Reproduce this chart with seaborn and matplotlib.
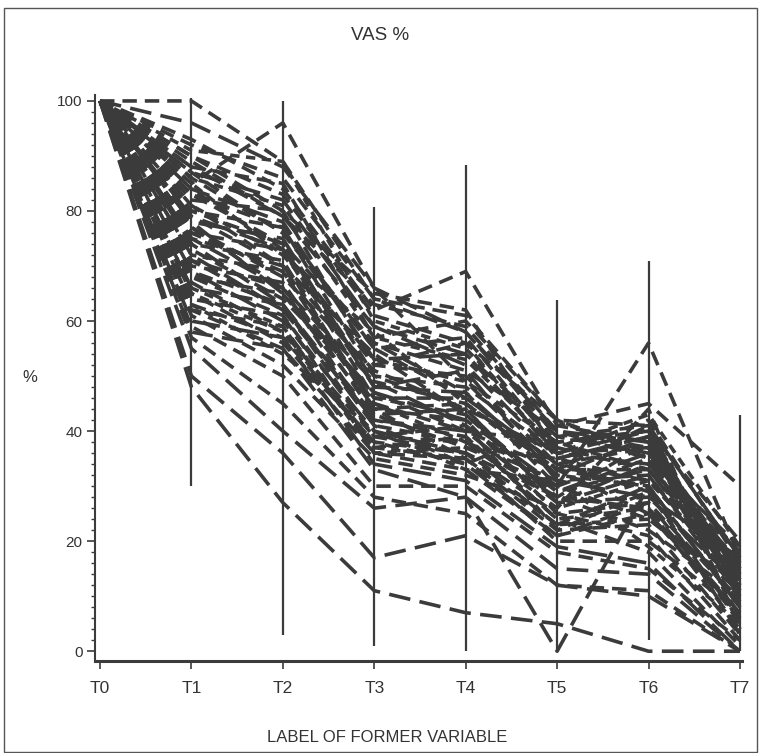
import matplotlib
matplotlib.use("Agg")
import matplotlib.pyplot as plt
from matplotlib.patches import Rectangle
from matplotlib.ticker import MultipleLocator
import numpy as np
import pandas as pd
import seaborn as sns

# Visit labels
visits = ["T0", "T1", "T2", "T3", "T4", "T5", "T6", "T7"]

# VAS (%) per patient, one list per patient, T0..T7
vas_by_patient = [
    [100, 100, 89, 64, 61, 42, 41, 17],
    [100, 96, 88, 66, 58, 40, 38, 14],
    [100, 93, 84, 62, 69, 41, 45, 30],
    [100, 91, 89, 60, 55, 38, 40, 12],
    [100, 90, 80, 65, 62, 36, 42, 16],
    [100, 88, 85, 57, 60, 42, 35, 10],
    [100, 87, 82, 59, 52, 35, 39, 13],
    [100, 86, 76, 55, 57, 37, 33, 18],
    [100, 85, 96, 66, 49, 33, 41, 9],
    [100, 84, 78, 53, 54, 39, 36, 15],
    [100, 83, 74, 56, 47, 30, 56, 17],
    [100, 82, 80, 52, 50, 34, 37, 11],
    [100, 81, 72, 58, 45, 32, 30, 8],
    [100, 80, 77, 50, 48, 36, 34, 14],
    [100, 79, 70, 54, 43, 28, 38, 6],
    [100, 78, 75, 48, 51, 31, 28, 12],
    [100, 77, 68, 51, 44, 27, 32, 10],
    [100, 76, 73, 46, 46, 34, 29, 5],
    [100, 75, 66, 49, 41, 29, 35, 16],
    [100, 74, 71, 44, 42, 25, 27, 9],
    [100, 73, 64, 47, 40, 33, 25, 7],
    [100, 72, 69, 45, 38, 26, 31, 13],
    [100, 71, 62, 42, 39, 24, 26, 4],
    [100, 70, 67, 43, 37, 30, 24, 11],
    [100, 69, 60, 40, 36, 23, 30, 8],
    [100, 68, 65, 44, 35, 22, 23, 3],
    [100, 67, 58, 39, 38, 28, 22, 10],
    [100, 66, 63, 41, 34, 21, 27, 6],
    [100, 65, 56, 38, 36, 25, 21, 2],
    [100, 64, 61, 36, 35, 20, 20, 7],
    [100, 63, 54, 40, 33, 31, 19, 5],
    [100, 62, 59, 37, 39, 24, 18, 1],
    [100, 61, 52, 35, 32, 26, 44, 4],
    [100, 60, 57, 34, 31, 19, 16, 0],
    [100, 59, 50, 30, 30, 18, 15, 2],
    [100, 58, 55, 33, 28, 15, 14, 0],
    [100, 57, 45, 28, 25, 12, 11, 0],
    [100, 55, 40, 26, 28, 0, 30, 3],
    [100, 50, 36, 17, 21, 12, 10, 0],
    [100, 48, 27, 11, 7, 5, 0, 0],
    [100, 89, 79, 63, 59, 40, 37, 15],
    [100, 86, 81, 57, 53, 37, 43, 19],
    [100, 84, 73, 52, 56, 35, 39, 14],
    [100, 80, 74, 49, 45, 33, 33, 12],
    [100, 78, 65, 47, 42, 30, 36, 18],
    [100, 75, 70, 45, 40, 38, 40, 20],
    [100, 72, 62, 43, 44, 27, 34, 16],
    [100, 69, 63, 39, 41, 22, 29, 9],
    [100, 66, 59, 36, 37, 35, 31, 13],
    [100, 63, 57, 38, 34, 41, 38, 15],
    [100, 92, 86, 64, 58, 39, 41, 17],
    [100, 90, 83, 61, 56, 42, 36, 14],
    [100, 88, 79, 59, 54, 36, 40, 11],
    [100, 87, 76, 56, 51, 40, 35, 19],
    [100, 85, 72, 53, 49, 38, 33, 13],
    [100, 83, 77, 55, 46, 34, 31, 16],
    [100, 81, 70, 50, 44, 36, 37, 12],
    [100, 79, 73, 48, 47, 32, 39, 10],
    [100, 77, 66, 46, 43, 29, 33, 14],
    [100, 76, 69, 44, 45, 33, 30, 8],
    [100, 74, 63, 42, 40, 27, 28, 17],
    [100, 71, 66, 41, 38, 31, 32, 11],
    [100, 68, 61, 39, 36, 28, 26, 7],
    [100, 65, 58, 37, 35, 23, 24, 12],
    [100, 62, 55, 36, 33, 21, 25, 6],
]

# Line type used for each patient
line_type = [
    "A", "B", "A", "C", "A", "A", "D", "A", "A", "B",
    "A", "A", "C", "A", "A", "D", "A", "A", "B", "A",
    "A", "C", "A", "A", "D", "A", "A", "B", "A", "A",
    "C", "A", "A", "D", "A", "B", "A", "B", "B", "B",
    "A", "C", "A", "A", "D", "A", "B", "A", "C", "A",
    "A", "A", "B", "A", "C", "A", "A", "D", "A", "A",
    "B", "A", "A", "C", "A",
]

# Range bars drawn at each visit
range_low = [99, 30, 3, 1, 0, 0, 2, 0]
range_high = [100, 100.5, 100, 80.7, 88.4, 63.8, 71, 43]

ink = "#3b3b3b"

rows = []
for pid, (vals, lt) in enumerate(zip(vas_by_patient, line_type)):
    for k, v in enumerate(vals):
        rows.append({"patient": pid, "visit": k, "vas": v, "ltype": lt})
df = pd.DataFrame(rows)

sns.set_style("white")
plt.rcParams["font.family"] = ["Liberation Sans", "DejaVu Sans"]

fig = plt.figure(figsize=(7.6, 7.53), dpi=100)
ax = fig.add_axes([0.125, 0.122, 0.851, 0.752])

dash_map = {
    "A": (4, 2.2),
    "B": (6, 2.6),
    "C": (2.6, 1.8),
    "D": (8, 3),
}

sns.lineplot(
    data=df, x="visit", y="vas", units="patient", estimator=None,
    style="ltype", dashes=dash_map, color=ink, linewidth=2.6,
    legend=False, ax=ax, sort=False,
)

ax.vlines(range(len(visits)), range_low, range_high, color=ink, linewidth=1.6)

ax.set_xlim(-0.055, 7.02)
ax.set_ylim(-1.8, 101.1)
ax.set_xticks(range(len(visits)))
ax.set_xticklabels(visits)
ax.yaxis.set_major_locator(MultipleLocator(20))
ax.yaxis.set_minor_locator(MultipleLocator(2))
ax.tick_params(axis="x", direction="out", length=6, width=1.2, color=ink,
               labelsize=12.5, labelcolor="#333333", pad=8, bottom=True)
ax.tick_params(axis="y", which="major", direction="out", length=6, width=1.2,
               color=ink, labelsize=11, labelcolor="#333333", pad=3, left=True)
ax.tick_params(axis="y", which="minor", direction="out", length=3, width=1.0,
               color=ink, left=True)
ax.set_xlabel("")
ax.set_ylabel("")

for side in ("top", "right"):
    ax.spines[side].set_visible(False)
ax.spines["left"].set_color(ink)
ax.spines["left"].set_linewidth(1.5)
ax.spines["bottom"].set_color(ink)
ax.spines["bottom"].set_linewidth(2.2)

fig.text(0.5, 1 - 35 / 753, "VAS %", ha="center", va="center",
         fontsize=13.5, color="#333333")
fig.text(30 / 760, 1 - 378 / 753, "%", ha="center", va="center",
         fontsize=12, color="#333333")
fig.text(387 / 760, 1 - 737 / 753, "LABEL OF FORMER VARIABLE",
         ha="center", va="center", fontsize=12, color="#333333")

fig.patches.append(Rectangle((4 / 760, 1 - 752 / 753), 753 / 760, 744 / 753,
                             transform=fig.transFigure, fill=False,
                             edgecolor="#555555", linewidth=1.0))

fig.savefig("out.png", dpi=100, facecolor="white")
